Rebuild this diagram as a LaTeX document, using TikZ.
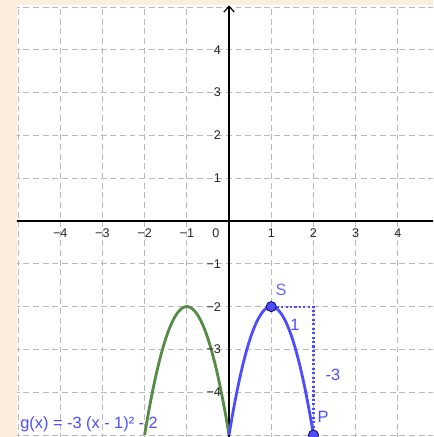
\documentclass[tikz,border=0pt]{standalone}
\usepackage{fontspec}
\setsansfont{Liberation Sans}
\usepackage{xcolor}
\usetikzlibrary{arrows.meta,positioning}
\definecolor{paper}{RGB}{252,238,220}
\definecolor{fblue}{RGB}{77,77,255}
\definecolor{fgreen}{RGB}{84,140,70}
\definecolor{gridgray}{RGB}{185,185,185}

\begin{document}
\begin{tikzpicture}[x=1cm, y=1.014cm, font=\sffamily,
	gridline/.style={gridgray, line width=0.6pt, dash pattern=on 4pt off 2.5pt},
	axis/.style={black, line width=0.8pt},
	curve/.style={line width=1.9pt},
	pt/.style={circle, fill=fblue, draw=black!70!blue, line width=0.5pt, inner sep=0pt, minimum size=0.24cm},
	ticklab/.style={text=black!85, font=\sffamily\fontsize{8.5}{10}\selectfont, inner sep=1pt},
	blab/.style={text=fblue, font=\sffamily\fontsize{11}{13}\selectfont, inner sep=0pt}]
	\useasboundingbox[fill=paper] (-5.427,-5.047) rectangle (4.834,5.164);
	\fill[white] (-5.03,-5.047) rectangle (4.834,5.047);
	\begin{scope}
		\clip (-5.03,-5.047) rectangle (4.834,5.047);
		\foreach \x in {-5, ..., 4} {
			\draw[gridline] (\x,-5.1) -- (\x,5.1);
		}
		\foreach \y in {-5, ..., 5} {
			\draw[gridline] (-5.1,\y) -- (4.9,\y);
		}
		\draw[axis] (-5.1,0) -- (4.9,0);
		\draw[axis, -{Straight Barb[length=4pt, width=7pt]}] (0,-5.1) -- (0,5.04);
		% the two parabolas
		\draw[curve, fgreen] plot[domain=-2:0, samples=60] (\x, {-3*(\x+1)*(\x+1)-2});
		\draw[curve, fblue] plot[domain=0:2, samples=60] (\x, {-3*(\x-1)*(\x-1)-2});
		% slope triangle
		\coordinate (C) at (2,-2);
		\node[pt] (S) at (1,-2) {};
		\node[pt] (P) at (2,-5) {};
		\draw[fblue, line width=1.4pt, dash pattern=on 1.4pt off 1.6pt] (S) -- (C) -- (P);
	\end{scope}

	\foreach \x in {-4, ..., -1} {
		\node[ticklab] at (\x, -0.28) {−\the\numexpr-\x\relax};
	}
	\foreach \x in {1, ..., 4} {
		\node[ticklab] at (\x, -0.28) {\x};
	}
	\node[ticklab] (O) at (-0.31, -0.28) {0};
	\foreach \y in {1, ..., 4} {
		\node[ticklab, anchor=east] at (-0.15, \y) {\y};
	}
	\foreach \y in {-4, ..., -1} {
		\node[ticklab, anchor=east] at (-0.15, \y) {−\the\numexpr-\y\relax};
	}

	\node[blab, text=fblue!85!white] (Slab) at (1.23,-1.61) {S};
	\node[blab] (Plab) at (2.23,-4.58) {P};
	\node[blab] (dx) at (1.56,-2.43) {1};
	\node[blab] (dy) at (2.46,-3.6) {-3};
	\node[blab, anchor=base west] (g) at (-4.95,-4.86) {g(x) = -3 (x - 1)² - 2};
\end{tikzpicture}
\end{document}
